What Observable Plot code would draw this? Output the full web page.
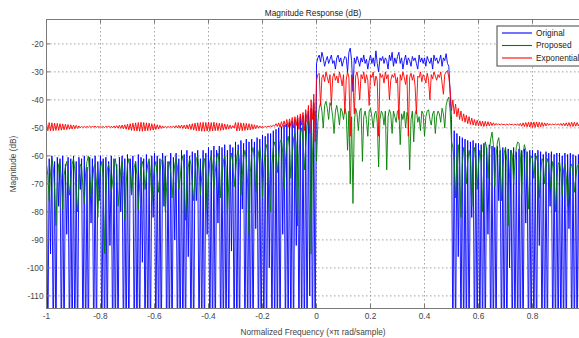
<!DOCTYPE html>
<html><head><meta charset="utf-8">
<script src="https://cdn.jsdelivr.net/npm/d3@7"></script>
<script src="https://cdn.jsdelivr.net/npm/@observablehq/plot@0.6"></script>
<style>html,body{margin:0;padding:0;background:#fff;overflow:hidden}</style>
</head><body><div id="chart"></div>
<script>
// Frequency grid (normalized, x pi rad/sample): each segment starts at a value and steps by 0.005
const step = 0.005;
const segStart = {left: -1, trans: -0.15, pass: 0, right: 0.505};

const xTicks = [-1, -0.8, -0.6, -0.4, -0.2, 0, 0.2, 0.4, 0.6, 0.8];
const yTicks = [-110, -100, -90, -80, -70, -60, -50, -40, -30, -20];
const seriesNames = ["Original", "Proposed", "Exponential"];
const seriesColors = ["#0000ff", "#008000", "#ff0000"];

// ---- Original (blue), dB ----
const originalLeft = [
-60.5,-130,-61,-95,-60,-130,-62,-130,-60.5,-78,-61,-130,-60,-130,-63,-88,-60.5,-130,-61,-130,
-60,-130,-62,-130,-60.5,-72,-61,-130,-60,-130,-64,-130,-60.5,-84,-61,-130,-60,-130,-62,-76,
-60,-130,-61,-130,-60.5,-130,-62,-92,-60,-130,-61,-130,-63,-130,-60.5,-80,-60,-130,-61,-130,
-59.5,-130,-61,-74,-60,-130,-62,-130,-59.5,-130,-60.5,-98,-61,-130,-59.5,-130,-62,-130,-60,-82,
-59,-130,-60,-130,-61,-130,-59,-78,-60,-130,-62,-130,-59,-130,-60.5,-90,-59,-130,-61,-130,
-58,-130,-59.5,-130,-58,-96,-60,-130,-58.5,-130,-59,-76,-58,-130,-61,-130,-58,-130,-59,-88,
-57,-130,-58,-130,-56.5,-130,-58,-84,-56.5,-130,-57,-130,-56,-130,-58,-130,-56,-94,-57,-130,
-55,-130,-56,-130,-54.5,-79,-55.5,-130,-54,-130,-55,-130,-54,-130,-55,-86,-53.5,-130,-54,-130,
-52.5,-130,-53,-130,-52,-100,-52,-130,-51,-130];
const originalTrans = [
-50.5,-130,-50,-130,-49.5,-88,-49,-130,-48.5,-130,-48,-130,-47.5,-130,-47,-92,-46.5,-130,-46,-130,
-45.5,-130,-45,-130,-44,-110,-43,-130,-41,-130];
const originalPass = [
-27,-25,-24,-26.5,-23,-25,-28,-26,-24.5,-27,
-25.5,-24,-27,-26,-29,-25,-24,-26.5,-25,-28,
-26,-24.5,-25,-30,-23,-21.5,-26,-37,-25,-27,
-24.5,-26,-28,-25,-26.5,-24,-27,-25.5,-29,-26,
-24,-27,-25,-28,-22.5,-27,-30,-25,-26,-24.5,
-27,-25,-26,-29,-24,-26,-23,-28,-25,-27,
-24.5,-23,-27,-25,-29,-26,-24,-27.5,-25,-26,
-28,-24.5,-26,-25,-27,-29,-24,-26.5,-25,-27,
-25,-28,-24.5,-26,-27,-25,-29,-24,-26,-25,
-27,-26,-24,-28,-25,-26,-23.5,-27,-28,-38,
-47];
const originalRight = [
-130,-51,-130,-52,-96,-53,-130,-53.5,-130,
-54,-130,-54.5,-130,-55,-82,-54.5,-130,-55.5,-130,
-55.5,-130,-56,-130,-55.5,-130,-57,-88,-56,-130,
-56.5,-130,-57,-130,-56.5,-76,-58,-130,-57,-130,
-57,-130,-57.5,-100,-58,-130,-57,-130,-58.5,-130,
-57.5,-130,-58,-130,-57.5,-84,-58.5,-130,-58,-130,
-58,-130,-59,-130,-58,-92,-58.5,-130,-59.5,-130,
-58.5,-130,-59,-78,-58.5,-130,-59.5,-130,-59,-130,
-59,-130,-60,-130,-59,-130,-59.5,-86,-59,-130,
-59.5,-130,-60,-130,-59.5,-130];

// ---- Proposed (green), dB ----
const proposedLeft = [
-63,-67,-76,-66,-61,-64,-72,-85,-70,-63,-62,-68,-79,-67,-64,-62,-66,-74,-69,-63,
-61,-65,-73,-80,-68,-63,-64,-71,-77,-66,-62,-60,-67,-75,-70,-64,-63,-69,-82,-71,
-64,-62,-68,-95,-74,-65,-63,-66,-73,-69,-64,-61,-65,-78,-72,-65,-62,-67,-83,-70,
-63,-61,-66,-74,-68,-64,-62,-67,-79,-70,-63,-62,-65,-72,-67,-63,-61,-66,-76,-69,
-64,-62,-67,-73,-66,-62,-61,-65,-80,-71,-64,-62,-66,-75,-68,-63,-61,-64,-72,-68,
-62,-60,-65,-83,-72,-64,-61,-63,-70,-76,-66,-61,-60,-65,-74,-67,-62,-61,-66,-79,
-68,-62,-60,-64,-72,-66,-61,-59,-63,-75,-68,-62,-60,-64,-81,-70,-62,-59,-63,-71,
-66,-60,-58,-62,-74,-67,-61,-58,-61,-70,-88,-66,-59,-57,-61,-73,-65,-59,-57,-62,
-75,-64,-58,-56,-60,-70,-80,-63,-57,-55];
const proposedTrans = [
-58,-66,-60,-55,-54,-59,-72,-62,-55,-53,-57,-68,-60,-54,-52,-56,-85,-60,-52,-50,
-55,-65,-56,-49,-47,-52,-95,-60,-46,-44];
const proposedPass = [
-62,-48,-43,-41,-44,-50,-42,-40.5,-43,-47,
-41,-42.5,-46,-52,-44,-42,-45,-49,-43,-44,
-47,-43,-45,-58,-44,-70,-46,-77,-48,-43,
-45,-51,-44,-43,-62,-46,-44,-47,-53,-44,
-43,-46,-50,-45,-44,-48,-64,-47,-44,-45,
-49,-44,-65,-46,-43.5,-45,-52,-44,-46,-48,
-44,-43.5,-56,-45,-47,-44,-50,-44.5,-46,-65,
-47,-44,-55,-45,-43.5,-48,-46,-51,-44,-45,
-53,-46,-44,-43.5,-47,-49,-45,-44,-52,-46,
-44,-45,-48,-43,-45,-50,-42,-40,-39,-44,
-55];
const proposedRight = [
-57,-62,-75,-60,-56,-64,-82,-63,-57,
-59,-70,-62,-58,-61,-78,-64,-57,-60,-72,
-63,-58,-62,-80,-61,-55,-57,-68,-59,-54,
-51.5,-56,-71,-60,-55,-53.5,-58,-76,-64,-59,
-57,-62,-85,-66,-58,-59.5,-70,-62,-57,-55,
-55.5,-60,-74,-59,-56,-58,-67,-79,-63,-60,
-61,-68,-62,-60,-63,-75,-66,-61,-62,-70,
-64,-61,-63,-72,-67,-62,-64,-80,-68,-63,
-62,-66,-74,-65,-63,-67,-78,-69,-64,-63,
-66,-73,-68,-64,-63,-67];

// ---- Exponential (red), dB ----
const exponentialLeft = [
-48.3,-51,-48.1,-51.1,-48.2,-51,-48.3,-50.9,-48.4,-50.9,-48.5,-50.8,-48.6,-50.7,-48.7,-50.6,-48.8,-50.5,-48.9,-50.4,
-49,-50.3,-49.1,-50.2,-49.3,-50,-49.4,-49.9,-49.5,-49.8,-49.5,-49.8,-49.4,-49.8,-49.5,-49.7,-49.4,-49.8,-49.5,-49.8,
-49.4,-49.8,-49.5,-49.9,-49.4,-49.8,-49.3,-49.9,-49.4,-50,-49.3,-50,-49.2,-50.1,-49.1,-50.2,-49,-50.3,-48.9,-50.5,
-48.7,-50.7,-48.5,-50.9,-48.3,-51,-48.2,-51.1,-48.1,-51.2,-48,-51.2,-48.1,-51.1,-48.2,-51,-48.3,-50.9,-48.5,-50.8,
-48.7,-50.6,-48.9,-50.4,-49.1,-50.2,-49.3,-50,-49.4,-49.9,-49.5,-49.8,-49.4,-49.9,-49.3,-50,-49.2,-50,-49.1,-50.1,
-49,-50.2,-49,-50.3,-48.9,-50.4,-48.7,-50.6,-48.5,-50.8,-48.3,-51,-48.2,-51.1,-48.1,-51.2,-48,-51.2,-48.1,-51.1,
-48,-51.2,-48.1,-51.1,-48,-51,-48.2,-51,-48.3,-50.9,-48.4,-50.8,-48.6,-50.6,-48.8,-50.4,-49,-50.2,-49.2,-50.1,
-48.1,-51.1,-48.1,-51,-48.2,-51,-48.3,-50.9,-48.4,-50.8,-48.5,-50.7,-48.7,-50.5,-48.9,-50.3,-49.1,-50.1,-49.3,-50,
-49.4,-49.9,-49.4,-49.8,-49.3,-49.7,-49.2,-49.6,-49,-49.4];
const exponentialTrans = [
-48.5,-49.5,-48.2,-49.8,-47.8,-49.5,-47.5,-49.6,-47,-49.8,-46.8,-49.5,-46.3,-50,-46,-49.2,-45.5,-50.5,-45,-49,
-44.5,-51,-43.5,-48,-42,-52,-40,-47,-38,-55];
const exponentialPass = [
-33,-31,-30.5,-42,-32,-31,-33.5,-30,-32,-34,
-31,-42,-32,-30.5,-33,-31.5,-34,-30,-32,-35,
-31,-45,-33,-30,-32,-53,-31,-34,-45,-31.5,
-30,-33,-40,-31,-32.5,-30,-34,-31,-33,-42,
-31,-32,-30,-35,-31.5,-33,-53,-30.5,-32,-31,
-34,-30,-32.5,-31,-40,-33,-31,-32,-30.5,-34,
-32,-47,-31,-33,-30,-32,-34.5,-31,-53,-32,
-30.5,-33,-31,-35,-45,-31.5,-32,-30,-33.5,-31,
-32,-34,-30.5,-33,-40,-31,-32.5,-30,-31.5,-33,
-31,-32,-30,-34,-38,-31,-30,-29.5,-32,-36,
-44];
const exponentialRight = [
-40,-45,-41.5,-46,-43,-47,-44,-47.5,-45,
-48,-45.5,-48.5,-46,-48.8,-46.5,-49,-47,-49.2,-47.3,
-49.3,-47.5,-49.4,-47.6,-49.5,-47.7,-49.4,-47.8,-49.3,-48,
-49.2,-48.2,-49.1,-48.4,-49,-48.5,-49,-48.6,-48.9,-48.7,
-49,-48.6,-49,-48.6,-48.9,-48.7,-49,-48.6,-49.1,-48.5,
-49.2,-48.4,-49.4,-48.2,-49.5,-48.1,-49.6,-48,-49.7,-47.9,
-49.8,-47.9,-49.8,-47.9,-49.7,-48,-49.6,-48.1,-49.5,-48.2,
-49.3,-48.3,-49.1,-48.5,-49,-48.6,-48.9,-48.6,-49,-48.5,
-49.1,-48.4,-49.2,-48.3,-49.3,-48.2,-49.4,-48.1,-49.5,-48,
-49.5,-48,-49.4,-48.1,-49.3,-48.2];

function build(name, segs) {
  const rows = [];
  for (const [key, vals] of segs) vals.forEach((v, i) => rows.push({series: name, f: segStart[key] + i * step, db: v}));
  return rows;
}
const original = build("Original", [["left", originalLeft], ["trans", originalTrans], ["pass", originalPass], ["right", originalRight]]);
const proposed = build("Proposed", [["left", proposedLeft], ["trans", proposedTrans], ["pass", proposedPass], ["right", proposedRight]]);
const exponential = build("Exponential", [["left", exponentialLeft], ["trans", exponentialTrans], ["pass", exponentialPass], ["right", exponentialRight]]);

const font = "'Liberation Sans', Arial, Helvetica, sans-serif";
const gridStyle = {stroke: "#8a8a8a", strokeOpacity: 1, strokeDasharray: "1.5,2.5", strokeWidth: 0.8};

const chart = Plot.plot({
  width: 579, height: 338,
  marginLeft: 46, marginRight: 0, marginTop: 19, marginBottom: 30,
  style: {fontFamily: font, fontSize: "8.3px", background: "#fff", overflow: "hidden"},
  x: {domain: [-1, 0.974]},
  y: {domain: [-114.5, -11.3]},
  marks: [
    Plot.gridX(xTicks, gridStyle),
    Plot.gridY(yTicks, gridStyle),
    Plot.line(original, {x: "f", y: "db", stroke: seriesColors[0], strokeWidth: 0.9, clip: true}),
    Plot.line(proposed, {x: "f", y: "db", stroke: seriesColors[1], strokeWidth: 0.9, clip: true}),
    Plot.line(exponential, {x: "f", y: "db", stroke: seriesColors[2], strokeWidth: 0.9, clip: true}),
    Plot.tickX(xTicks, {x: d => d, insetTop: 285, stroke: "#777"}),
    Plot.tickX(xTicks, {x: d => d, insetBottom: 285, stroke: "#777"}),
    Plot.tickY(yTicks, {y: d => d, insetRight: 529, stroke: "#777"}),
    Plot.frame({stroke: "#7a7a7a"}),
    Plot.axisX(xTicks, {tickSize: 0, tickPadding: 5, tickFormat: d => String(d), fill: "#444",
      label: "Normalized Frequency (×π rad/sample)", labelAnchor: "center", labelOffset: 26, labelArrow: "none"}),
    Plot.axisY(yTicks, {tickSize: 0, tickPadding: 3, tickFormat: d => String(d), fill: "#444",
      label: "Magnitude (dB)", labelAnchor: "center", labelOffset: 36, labelArrow: "none"}),
    Plot.text(["Magnitude Response (dB)"], {frameAnchor: "top", dy: -9, fill: "#222", fontSize: 8.3})
  ]
});
document.getElementById("chart").appendChild(chart);

// Legend box (drawn inside the SVG, top-right)
const svg = d3.select(chart);
const lg = svg.append("g").attr("font-family", font).attr("font-size", "8.3px").attr("text-anchor", "start");
lg.append("rect").attr("x", 497).attr("y", 26).attr("width", 100).attr("height", 40)
  .attr("fill", "#fff").attr("stroke", "#444").attr("stroke-width", 1);
seriesNames.forEach((name, i) => {
  const y = 33 + i * 12.5;
  lg.append("line").attr("x1", 502).attr("x2", 532).attr("y1", y).attr("y2", y)
    .attr("stroke", seriesColors[i]).attr("stroke-width", 1.1);
  lg.append("text").attr("x", 536).attr("y", y).attr("dy", "0.32em").attr("fill", "#222")
    .attr("text-anchor", "start").text(name);
});
</script></body></html>
